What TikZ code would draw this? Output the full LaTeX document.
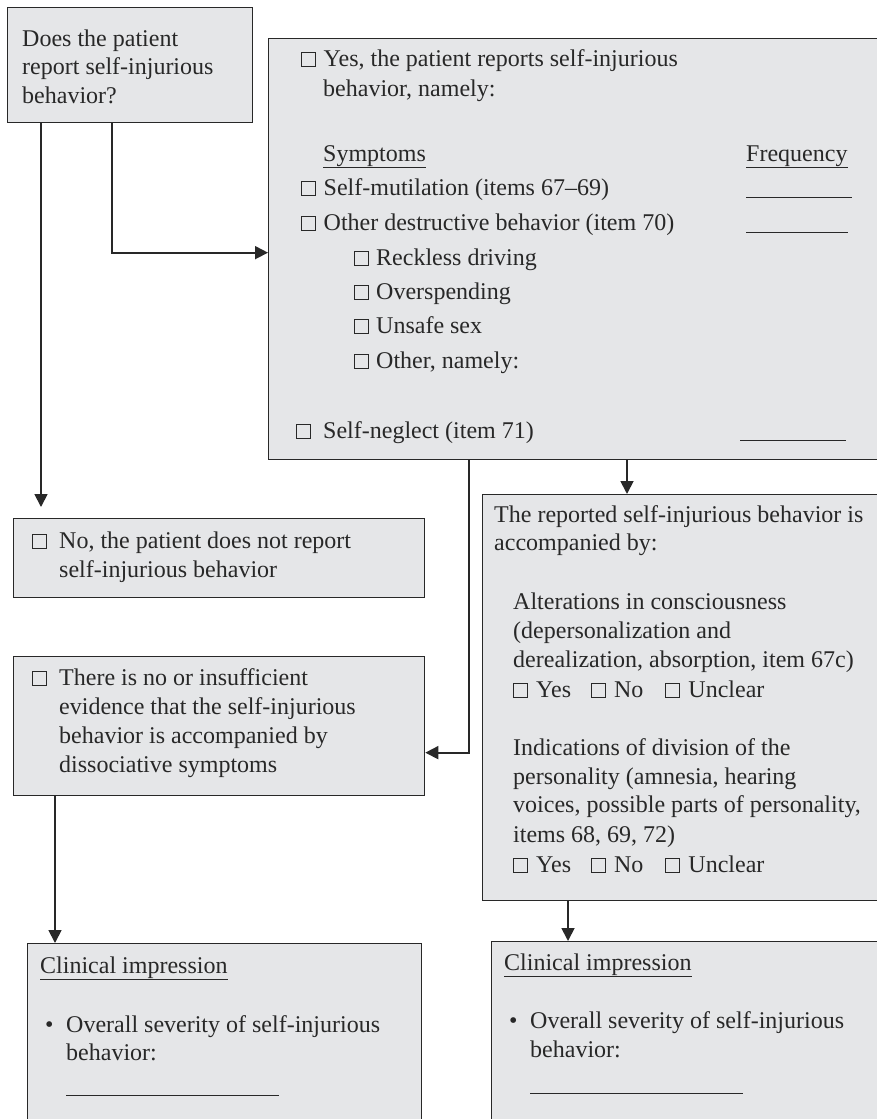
\documentclass[tikz,border=0pt]{standalone}
\usepackage{fontspec}
\setmainfont{Liberation Serif}
\usetikzlibrary{arrows.meta}
\definecolor{boxgray}{RGB}{229,230,232}
\definecolor{inkgray}{RGB}{40,40,40}
\newcommand{\chkbox}{{\setlength{\fboxsep}{0pt}\setlength{\fboxrule}{1pt}\fbox{\rule{0pt}{13pt}\rule{13pt}{0pt}}}}
\newcommand{\blankline}[1]{\rule[-1pt]{#1}{1pt}}
\tikzset{
  box/.style={draw=inkgray, line width=1.3pt, fill=boxgray, anchor=north west, inner sep=0pt},
  txt/.style={anchor=base west, inner sep=0pt, text=inkgray, font={\fontsize{24pt}{29pt}\selectfont}},
  arr/.style={draw=inkgray, line width=1.8pt, -{Triangle[length=13pt,width=13pt]}}
}
\begin{document}
\begin{tikzpicture}[x=1pt,y=-1pt]
  \useasboundingbox (0,0) rectangle (877,1119);
  \clip (0,0) rectangle (877,1119);

  % Kaders
  \node[box, minimum width=245pt, minimum height=115pt] (ques) at (7,7) {};
  \node[box, minimum width=640pt, minimum height=421pt] (yes) at (268,38) {};
  \node[box, minimum width=411pt, minimum height=79pt] (no) at (13,518) {};
  \node[box, minimum width=411pt, minimum height=139pt] (ins) at (13,656) {};
  \node[box, minimum width=420pt, minimum height=406pt] (acc) at (482,494) {};
  \node[box, minimum width=394pt, minimum height=220pt] (cl1) at (27,943) {};
  \node[box, minimum width=420pt, minimum height=220pt] (cl2) at (491,941) {};

  % Vraag
  \foreach \y/\t [count=\i] in {46/Does the patient, 74.5/report self-injurious, 103/behavior?}
    \node[txt] (ques-\i) at (22,\y) {\t};

  % Ja
  \foreach \x/\y/\t [count=\i] in {
      301/66/{\chkbox\hspace{7.5pt}Yes, the patient reports self-injurious},
      323/96/{behavior, namely:},
      323/161/{\underline{Symptoms}},
      301/195/{\chkbox\hspace{7.5pt}Self-mutilation (items 67–69)},
      301/230/{\chkbox\hspace{7.5pt}Other destructive behavior (item 70)},
      354/265/{\chkbox\hspace{7pt}Reckless driving},
      354/299/{\chkbox\hspace{7pt}Overspending},
      354/333/{\chkbox\hspace{7pt}Unsafe sex},
      354/368/{\chkbox\hspace{7pt}Other, namely:},
      296/438/{\chkbox\hspace{12pt}Self-neglect (item 71)}}
    \node[txt] (yes-\i) at (\x,\y) {\t};

  % Frequentie
  \node[txt] (freq) at (746,161) {\underline{Frequency}};
  \node[txt] (freq-1) at (746,197) {\blankline{106pt}};
  \node[txt] (freq-2) at (746,232) {\blankline{102pt}};
  \node[txt] (freq-3) at (740,440) {\blankline{106pt}};

  % Nee
  \node[txt] (no-1) at (32,548) {\chkbox\hspace{12pt}No, the patient does not report};
  \node[txt] (no-2) at (59,577) {self-injurious behavior};

  % Onvoldoende
  \foreach \x/\y/\t [count=\i] in {
      32/685/{\chkbox\hspace{12pt}There is no or insufficient},
      59/714/{evidence that the self-injurious},
      59/743/{behavior is accompanied by},
      59/772/{dissociative symptoms}}
    \node[txt] (ins-\i) at (\x,\y) {\t};

  % Gepaard met
  \foreach \x/\y/\t [count=\i] in {
      494/522/{The reported self-injurious behavior is},
      494/550/{accompanied by:},
      513/609/{Alterations in consciousness},
      513/638/{(depersonalization and},
      513/667/{derealization, absorption, item 67c)},
      513/697/{\chkbox\hspace{8pt}Yes\hspace{20pt}\chkbox\hspace{8pt}No\hspace{22pt}\chkbox\hspace{8pt}Unclear},
      513/755/{Indications of division of the},
      513/784/{personality (amnesia, hearing},
      513/812/{voices, possible parts of personality,},
      513/842/{items 68, 69, 72)},
      513/872/{\chkbox\hspace{8pt}Yes\hspace{20pt}\chkbox\hspace{8pt}No\hspace{22pt}\chkbox\hspace{8pt}Unclear}}
    \node[txt] (acc-\i) at (\x,\y) {\t};

  % Klinische indruk links
  \node[txt] (cl1-1) at (40,973) {\underline{Clinical impression}};
  \node[txt] (cl1-b) at (45,1032) {\textbullet};
  \node[txt] (cl1-2) at (66,1032) {Overall severity of self-injurious};
  \node[txt] (cl1-3) at (66,1060) {behavior:};
  \node[txt] (cl1-4) at (66,1095) {\blankline{213pt}};

  % Klinische indruk rechts
  \node[txt] (cl2-1) at (504,970) {\underline{Clinical impression}};
  \node[txt] (cl2-b) at (509,1028) {\textbullet};
  \node[txt] (cl2-2) at (530,1028) {Overall severity of self-injurious};
  \node[txt] (cl2-3) at (530,1057) {behavior:};
  \node[txt] (cl2-4) at (530,1093) {\blankline{213pt}};

  % Pijlen
  \coordinate (d1) at ([xshift=34pt]ques.south west);
  \draw[arr, shorten >=11pt] (d1) -- (d1 |- no.north);
  \coordinate (d2) at ([xshift=105pt]ques.south west);
  \draw[arr] (d2) |- ([yshift=-3.5pt]yes.west);
  \coordinate (d3) at ([xshift=201pt]yes.south west);
  \draw[arr] (d3) |- ([yshift=-26.5pt]ins.east);
  \coordinate (d4) at ([xshift=359pt]yes.south west);
  \draw[arr] (d4) -- (d4 |- acc.north);
  \coordinate (d5) at ([xshift=42pt]ins.south west);
  \draw[arr] (d5) -- (d5 |- cl1.north);
  \coordinate (d6) at ([xshift=86pt]acc.south west);
  \draw[arr] (d6) -- (d6 |- cl2.north);
\end{tikzpicture}
\end{document}
